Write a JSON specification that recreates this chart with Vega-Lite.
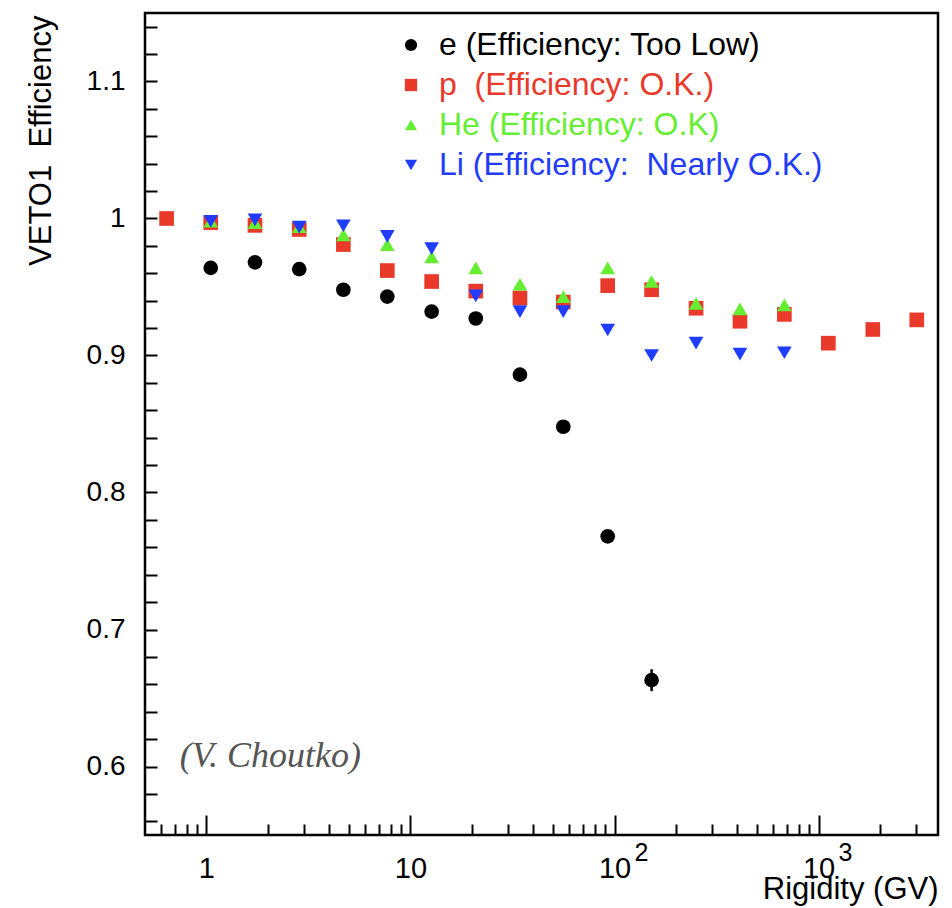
{
  "$schema": "https://vega.github.io/schema/vega-lite/v6.json",
  "autosize": {"type": "none"},
  "width": 793,
  "height": 822,
  "padding": {"left": 145, "top": 13, "right": 14, "bottom": 73},
  "background": "white",
  "config": {
    "view": {"stroke": "black", "strokeWidth": 2.5},
    "font": "Liberation Sans"
  },
  "datasets": {
    "pts": [
      {"series": "e (Efficiency: Too Low)", "R": 1.05, "eff": 0.964},
      {"series": "e (Efficiency: Too Low)", "R": 1.73, "eff": 0.968},
      {"series": "e (Efficiency: Too Low)", "R": 2.85, "eff": 0.963},
      {"series": "e (Efficiency: Too Low)", "R": 4.69, "eff": 0.948},
      {"series": "e (Efficiency: Too Low)", "R": 7.7, "eff": 0.943},
      {"series": "e (Efficiency: Too Low)", "R": 12.7, "eff": 0.932},
      {"series": "e (Efficiency: Too Low)", "R": 20.9, "eff": 0.927},
      {"series": "e (Efficiency: Too Low)", "R": 34.4, "eff": 0.886},
      {"series": "e (Efficiency: Too Low)", "R": 56.1, "eff": 0.848},
      {"series": "e (Efficiency: Too Low)", "R": 92.6, "eff": 0.768},
      {"series": "e (Efficiency: Too Low)", "R": 152, "eff": 0.663, "lo": 0.655, "hi": 0.671},
      {"series": "p\u00a0 (Efficiency: O.K.)", "R": 0.638, "eff": 1.0},
      {"series": "p\u00a0 (Efficiency: O.K.)", "R": 1.05, "eff": 0.997},
      {"series": "p\u00a0 (Efficiency: O.K.)", "R": 1.73, "eff": 0.995},
      {"series": "p\u00a0 (Efficiency: O.K.)", "R": 2.85, "eff": 0.992},
      {"series": "p\u00a0 (Efficiency: O.K.)", "R": 4.69, "eff": 0.981},
      {"series": "p\u00a0 (Efficiency: O.K.)", "R": 7.7, "eff": 0.962},
      {"series": "p\u00a0 (Efficiency: O.K.)", "R": 12.7, "eff": 0.954},
      {"series": "p\u00a0 (Efficiency: O.K.)", "R": 20.9, "eff": 0.947},
      {"series": "p\u00a0 (Efficiency: O.K.)", "R": 34.4, "eff": 0.942},
      {"series": "p\u00a0 (Efficiency: O.K.)", "R": 56.1, "eff": 0.939},
      {"series": "p\u00a0 (Efficiency: O.K.)", "R": 92.6, "eff": 0.951},
      {"series": "p\u00a0 (Efficiency: O.K.)", "R": 152, "eff": 0.948},
      {"series": "p\u00a0 (Efficiency: O.K.)", "R": 251, "eff": 0.9345},
      {"series": "p\u00a0 (Efficiency: O.K.)", "R": 412, "eff": 0.925},
      {"series": "p\u00a0 (Efficiency: O.K.)", "R": 680, "eff": 0.93},
      {"series": "p\u00a0 (Efficiency: O.K.)", "R": 1117, "eff": 0.909},
      {"series": "p\u00a0 (Efficiency: O.K.)", "R": 1845, "eff": 0.919},
      {"series": "p\u00a0 (Efficiency: O.K.)", "R": 3030, "eff": 0.926},
      {"series": "He (Efficiency: O.K)", "R": 1.05, "eff": 0.998},
      {"series": "He (Efficiency: O.K)", "R": 1.73, "eff": 0.997},
      {"series": "He (Efficiency: O.K)", "R": 2.85, "eff": 0.994},
      {"series": "He (Efficiency: O.K)", "R": 4.69, "eff": 0.988},
      {"series": "He (Efficiency: O.K)", "R": 7.7, "eff": 0.981},
      {"series": "He (Efficiency: O.K)", "R": 12.7, "eff": 0.972},
      {"series": "He (Efficiency: O.K)", "R": 20.9, "eff": 0.964},
      {"series": "He (Efficiency: O.K)", "R": 34.4, "eff": 0.952},
      {"series": "He (Efficiency: O.K)", "R": 56.1, "eff": 0.943},
      {"series": "He (Efficiency: O.K)", "R": 92.6, "eff": 0.964},
      {"series": "He (Efficiency: O.K)", "R": 152, "eff": 0.954},
      {"series": "He (Efficiency: O.K)", "R": 251, "eff": 0.938},
      {"series": "He (Efficiency: O.K)", "R": 412, "eff": 0.934},
      {"series": "He (Efficiency: O.K)", "R": 680, "eff": 0.937},
      {"series": "Li (Efficiency:\u00a0 Nearly O.K.)", "R": 1.05, "eff": 0.998},
      {"series": "Li (Efficiency:\u00a0 Nearly O.K.)", "R": 1.73, "eff": 0.999},
      {"series": "Li (Efficiency:\u00a0 Nearly O.K.)", "R": 2.85, "eff": 0.9937},
      {"series": "Li (Efficiency:\u00a0 Nearly O.K.)", "R": 4.69, "eff": 0.9947},
      {"series": "Li (Efficiency:\u00a0 Nearly O.K.)", "R": 7.7, "eff": 0.987},
      {"series": "Li (Efficiency:\u00a0 Nearly O.K.)", "R": 12.7, "eff": 0.978},
      {"series": "Li (Efficiency:\u00a0 Nearly O.K.)", "R": 20.9, "eff": 0.9435},
      {"series": "Li (Efficiency:\u00a0 Nearly O.K.)", "R": 34.4, "eff": 0.932},
      {"series": "Li (Efficiency:\u00a0 Nearly O.K.)", "R": 56.1, "eff": 0.932},
      {"series": "Li (Efficiency:\u00a0 Nearly O.K.)", "R": 92.6, "eff": 0.9186},
      {"series": "Li (Efficiency:\u00a0 Nearly O.K.)", "R": 152, "eff": 0.9},
      {"series": "Li (Efficiency:\u00a0 Nearly O.K.)", "R": 251, "eff": 0.909},
      {"series": "Li (Efficiency:\u00a0 Nearly O.K.)", "R": 412, "eff": 0.901},
      {"series": "Li (Efficiency:\u00a0 Nearly O.K.)", "R": 680, "eff": 0.902}
    ],
    "expo": [
      {"R": 100, "t": "2"},
      {"R": 1000, "t": "3"}
    ],
    "note": [
      {"R": 0.74, "eff": 0.608, "t": "(V. Choutko)"}
    ]
  },
  "layer": [
    {
      "data": {"name": "pts"},
      "transform": [{"filter": "isValid(datum.lo)"}],
      "mark": {"type": "rule", "color": "black", "strokeWidth": 2.5},
      "encoding": {
        "x": {"field": "R", "type": "quantitative"},
        "y": {"field": "lo", "type": "quantitative"},
        "y2": {"field": "hi"}
      }
    },
    {
      "data": {"name": "pts"},
      "mark": {"type": "point", "filled": true, "opacity": 1, "size": 215},
      "encoding": {
        "x": {
          "field": "R", "type": "quantitative",
          "scale": {"type": "log", "domain": [0.5, 3850], "nice": false},
          "axis": {
            "title": "Rigidity (GV)",
            "values": [0.6,0.7,0.8,0.9,1,2,3,4,5,6,7,8,9,10,20,30,40,50,60,70,80,90,100,200,300,400,500,600,700,800,900,1000,2000,3000],
            "tickCount": 200,
            "labelExpr": "datum.value==1 ? '1' : (datum.value==10 || datum.value==100 || datum.value==1000) ? '10' : ''",
            "domain": false,
            "grid": false,
            "tickColor": "black",
            "tickWidth": 2,
            "tickSize": {"condition": {"test": "datum.value==1 || datum.value==10 || datum.value==100 || datum.value==1000", "value": -20}, "value": -11},
            "labelPadding": 39,
            "labelFontSize": 29,
            "labelColor": "black",
            "labelFlush": false,
            "labelOverlap": false,
            "titleFontSize": 31,
            "titleFontWeight": "normal",
            "titleColor": "black",
            "titleAnchor": "end",
            "titleAlign": "right",
            "titleBaseline": "alphabetic",
            "titleX": 793,
            "titleY": 63
          }
        },
        "y": {
          "field": "eff", "type": "quantitative",
          "scale": {"domain": [0.55, 1.15], "nice": false, "zero": false},
          "axis": {
            "title": "VETO1\u00a0 Efficiency",
            "values": [0.56,0.58,0.6,0.62,0.64,0.66,0.68,0.7,0.72,0.74,0.76,0.78,0.8,0.82,0.84,0.86,0.88,0.9,0.92,0.94,0.96,0.98,1,1.02,1.04,1.06,1.08,1.1,1.12,1.14],
            "tickCount": 200,
            "labelExpr": "abs(datum.value*10 - round(datum.value*10)) < 0.001 ? format(datum.value, '.1~f') : ''",
            "domain": false,
            "grid": false,
            "tickColor": "black",
            "tickWidth": 2,
            "tickSize": -12,
            "labelPadding": 32,
            "labelFontSize": 28,
            "labelColor": "black",
            "labelFlush": false,
            "labelOverlap": false,
            "titleFontSize": 31,
            "titleFontWeight": "normal",
            "titleColor": "black",
            "titleAngle": -90,
            "titleAnchor": "end",
            "titleAlign": "right",
            "titleBaseline": "middle",
            "titleX": -104,
            "titleY": 2
          }
        },
        "color": {
          "field": "series", "type": "nominal", "sort": null,
          "scale": {
            "domain": ["e (Efficiency: Too Low)", "p\u00a0 (Efficiency: O.K.)", "He (Efficiency: O.K)", "Li (Efficiency:\u00a0 Nearly O.K.)"],
            "range": ["#000000", "#e8392a", "#66ee33", "#1f3cff"]
          },
          "legend": {
            "title": null,
            "orient": "none",
            "legendX": 250,
            "legendY": 16,
            "padding": 0,
            "labelFontSize": 32,
            "labelOffset": 12,
            "labelLimit": 600,
            "rowPadding": 8,
            "symbolSize": 150,
            "symbolStrokeWidth": 0,
            "labelColor": {"expr": "scale('color', datum.value)"}
          }
        },
        "shape": {
          "field": "series", "type": "nominal", "sort": null,
          "scale": {
            "domain": ["e (Efficiency: Too Low)", "p\u00a0 (Efficiency: O.K.)", "He (Efficiency: O.K)", "Li (Efficiency:\u00a0 Nearly O.K.)"],
            "range": ["circle", "square", "triangle-up", "triangle-down"]
          }
        }
      }
    },
    {
      "data": {"name": "expo"},
      "mark": {"type": "text", "fontSize": 25, "color": "black", "align": "left", "baseline": "middle", "dx": 20, "dy": 18},
      "encoding": {
        "x": {"field": "R", "type": "quantitative"},
        "y": {"datum": 0.55},
        "text": {"field": "t"}
      }
    },
    {
      "data": {"name": "note"},
      "mark": {"type": "text", "font": "Liberation Serif", "fontStyle": "italic", "fontSize": 36, "color": "#555555", "align": "left", "baseline": "middle"},
      "encoding": {
        "x": {"field": "R", "type": "quantitative"},
        "y": {"field": "eff", "type": "quantitative"},
        "text": {"field": "t"}
      }
    }
  ]
}
